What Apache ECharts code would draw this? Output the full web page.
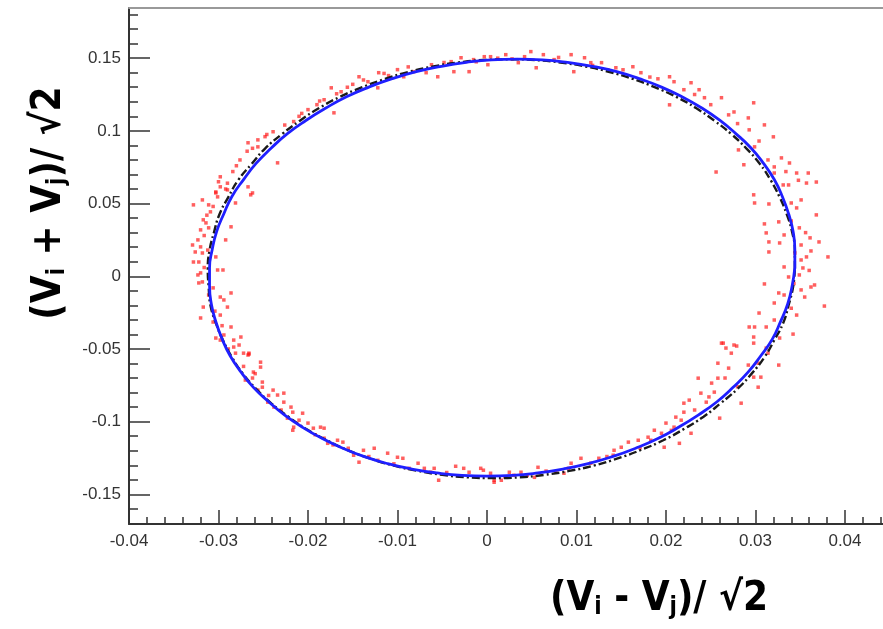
<!doctype html>
<html>
<head>
<meta charset="utf-8">
<title>ellipse fit</title>
<script src="https://cdn.jsdelivr.net/npm/echarts@6/dist/echarts.min.js"></script>
<style>
  html, body { margin: 0; padding: 0; background: #fff; }
  #chart { width: 883px; height: 629px; }
</style>
</head>
<body>
<div id="chart"></div>
<script>
// axis ranges and tick labels
var xRange = [-0.04, 0.04425];
var yRange = [-0.1704, 0.1845];
var xMajorTicks = [-0.04, -0.03, -0.02, -0.01, 0, 0.01, 0.02, 0.03, 0.04];
var yMajorTicks = [-0.15, -0.1, -0.05, 0, 0.05, 0.1, 0.15];

// blue fitted ellipse
var fitCurve = [
  [0.0344, 0.0059], [0.0344, 0.0184], [0.0342, 0.0309], [0.0337, 0.0430], [0.0330, 0.0549],
  [0.0321, 0.0665], [0.0309, 0.0776], [0.0295, 0.0882], [0.0278, 0.0981], [0.0260, 0.1073],
  [0.0240, 0.1157], [0.0218, 0.1234], [0.0195, 0.1301], [0.0170, 0.1359], [0.0145, 0.1407],
  [0.0118, 0.1444], [0.0090, 0.1471], [0.0062, 0.1488], [0.0034, 0.1493], [0.0005, 0.1488],
  [-0.0023, 0.1471], [-0.0051, 0.1444], [-0.0079, 0.1407], [-0.0106, 0.1359], [-0.0132, 0.1301],
  [-0.0157, 0.1234], [-0.0180, 0.1157], [-0.0202, 0.1073], [-0.0223, 0.0981], [-0.0241, 0.0882],
  [-0.0258, 0.0776], [-0.0272, 0.0665], [-0.0285, 0.0549], [-0.0294, 0.0430], [-0.0302, 0.0309],
  [-0.0307, 0.0184], [-0.0310, 0.0059], [-0.0310, -0.0066], [-0.0308, -0.0191], [-0.0303, -0.0312],
  [-0.0296, -0.0431], [-0.0287, -0.0547], [-0.0275, -0.0658], [-0.0261, -0.0764], [-0.0244, -0.0863],
  [-0.0226, -0.0955], [-0.0206, -0.1039], [-0.0184, -0.1116], [-0.0161, -0.1183], [-0.0137, -0.1241],
  [-0.0111, -0.1289], [-0.0084, -0.1326], [-0.0056, -0.1353], [-0.0028, -0.1370], [0.0000, -0.1375],
  [0.0029, -0.1370], [0.0057, -0.1353], [0.0085, -0.1326], [0.0113, -0.1289], [0.0140, -0.1241],
  [0.0166, -0.1183], [0.0191, -0.1116], [0.0214, -0.1039], [0.0236, -0.0955], [0.0257, -0.0863],
  [0.0275, -0.0764], [0.0292, -0.0658], [0.0306, -0.0547], [0.0319, -0.0431], [0.0328, -0.0312],
  [0.0336, -0.0191], [0.0341, -0.0066], [0.0344, 0.0059]
];

// black dashed reference ellipse
var refCurve = [
  [0.0344, 0.0052], [0.0344, 0.0178], [0.0341, 0.0303], [0.0335, 0.0425], [0.0327, 0.0544],
  [0.0317, 0.0661], [0.0305, 0.0772], [0.0290, 0.0878], [0.0273, 0.0978], [0.0254, 0.1070],
  [0.0234, 0.1155], [0.0212, 0.1232], [0.0188, 0.1299], [0.0163, 0.1357], [0.0137, 0.1405],
  [0.0110, 0.1443], [0.0082, 0.1470], [0.0054, 0.1487], [0.0025, 0.1492], [-0.0004, 0.1487],
  [-0.0032, 0.1470], [-0.0060, 0.1443], [-0.0088, 0.1405], [-0.0114, 0.1357], [-0.0140, 0.1299],
  [-0.0165, 0.1232], [-0.0188, 0.1155], [-0.0209, 0.1070], [-0.0229, 0.0978], [-0.0248, 0.0878],
  [-0.0263, 0.0772], [-0.0278, 0.0661], [-0.0289, 0.0544], [-0.0299, 0.0425], [-0.0305, 0.0303],
  [-0.0310, 0.0178], [-0.0312, 0.0052], [-0.0311, -0.0074], [-0.0309, -0.0199], [-0.0303, -0.0321],
  [-0.0295, -0.0440], [-0.0285, -0.0557], [-0.0273, -0.0668], [-0.0258, -0.0774], [-0.0241, -0.0874],
  [-0.0222, -0.0966], [-0.0202, -0.1051], [-0.0179, -0.1128], [-0.0156, -0.1195], [-0.0131, -0.1253],
  [-0.0105, -0.1301], [-0.0077, -0.1339], [-0.0050, -0.1366], [-0.0022, -0.1383], [0.0007, -0.1388],
  [0.0036, -0.1383], [0.0064, -0.1366], [0.0092, -0.1339], [0.0120, -0.1301], [0.0146, -0.1253],
  [0.0172, -0.1195], [0.0197, -0.1128], [0.0220, -0.1051], [0.0242, -0.0966], [0.0261, -0.0874],
  [0.0280, -0.0774], [0.0296, -0.0668], [0.0310, -0.0557], [0.0321, -0.0440], [0.0331, -0.0321],
  [0.0337, -0.0199], [0.0342, -0.0074], [0.0344, 0.0052]
];

// red measured points
var measuredPoints = [
  // upper left
  [-0.0298, 0.0684], [-0.0300, 0.0650], [-0.0303, 0.0580], [-0.0292, 0.0600], [-0.0267, 0.0918],
  [-0.0256, 0.0938], [-0.0262, 0.0573], [-0.0234, 0.0780], [-0.0256, 0.0890], [-0.0268, 0.0860],
  [-0.0239, 0.0994], [-0.0216, 0.1064], [-0.0200, 0.1146], [-0.0182, 0.1214], [-0.0174, 0.1296],
  [-0.0171, 0.1124], [-0.0163, 0.1269], [-0.0143, 0.1372], [-0.0133, 0.1338], [-0.0121, 0.1400],
  [-0.0122, 0.1296], [-0.0100, 0.1421], [-0.0093, 0.1372], [-0.0082, 0.1407], [-0.0068, 0.1400],
  [-0.0055, 0.1372], [-0.0040, 0.1476], [-0.0037, 0.1407], [-0.0020, 0.1407], [-0.0029, 0.1503],
  [-0.0015, 0.1490], [0.0001, 0.1455], [0.0004, 0.1510], [-0.0210, 0.1100], [-0.0190, 0.1180],
  [-0.0150, 0.1320], [-0.0110, 0.1380], [-0.0248, 0.0960], [-0.0280, 0.0760], [-0.0284, 0.0720],
  [-0.0276, 0.0800], [-0.0262, 0.0880], [-0.0246, 0.0975], [-0.0226, 0.1040], [-0.0207, 0.1120],
  [-0.0187, 0.1205], [-0.0168, 0.1255], [-0.0156, 0.1300], [-0.0138, 0.1350], [-0.0115, 0.1395],
  [-0.0088, 0.1440], [-0.0062, 0.1455], [-0.0048, 0.1470], [-0.0012, 0.1475], [-0.0290, 0.0640],
  // top and upper right
  [-0.0003, 0.1510], [0.0021, 0.1524], [0.0035, 0.1469], [0.0049, 0.1545], [0.0063, 0.1524],
  [0.0055, 0.1434], [0.0094, 0.1524], [0.0097, 0.1407], [0.0109, 0.1503], [0.0116, 0.1469],
  [0.0128, 0.1469], [0.0144, 0.1434], [0.0163, 0.1441], [0.0172, 0.1400], [0.0191, 0.1358],
  [0.0204, 0.1372], [0.0204, 0.1179], [0.0209, 0.1338], [0.0220, 0.1283], [0.0228, 0.1331],
  [0.0237, 0.1283], [0.0243, 0.1228], [0.0262, 0.1228], [0.0270, 0.1110], [0.0292, 0.1089],
  [0.0298, 0.1193], [0.0310, 0.1041], [0.0293, 0.1007], [0.0320, 0.0959], [0.0281, 0.0869],
  [0.0256, 0.0717], [0.0299, 0.0890], [0.0314, 0.0800], [0.0321, 0.0752], [0.0329, 0.0814],
  [0.0338, 0.0779], [0.0346, 0.0710], [0.0359, 0.0710], [0.0368, 0.0648], [0.0357, 0.0641],
  [0.0337, 0.0628], [0.0298, 0.0560], [0.0321, 0.0710], [0.0287, 0.0767], [0.0075, 0.1490],
  [0.0135, 0.1420], [0.0250, 0.1180], [0.0280, 0.1050], [0.0012, 0.1500], [0.0028, 0.1495],
  [0.0042, 0.1510], [0.0080, 0.1505], [0.0118, 0.1450], [0.0152, 0.1420], [0.0182, 0.1370],
  [0.0232, 0.1250], [0.0276, 0.1130], [0.0304, 0.0930], [0.0334, 0.0720], [0.0348, 0.0660],
  // right side
  [0.0299, 0.0504], [0.0315, 0.0497], [0.0331, 0.0628], [0.0340, 0.0504], [0.0351, 0.0525],
  [0.0346, 0.0470], [0.0326, 0.0374], [0.0310, 0.0360], [0.0368, 0.0422], [0.0349, 0.0333],
  [0.0312, 0.0298], [0.0315, 0.0236], [0.0327, 0.0229], [0.0332, 0.0284], [0.0361, 0.0264],
  [0.0371, 0.0236], [0.0351, 0.0215], [0.0362, 0.0174], [0.0315, 0.0167], [0.0381, 0.0133],
  [0.0351, 0.0112], [0.0357, 0.0133], [0.0332, 0.0064], [0.0353, 0.0057], [0.0349, 0.0009],
  [0.0337, -0.0005], [0.0310, -0.0053], [0.0366, -0.0060], [0.0362, -0.0074], [0.0351, -0.0094],
  [0.0326, -0.0115], [0.0332, -0.0129], [0.0355, -0.0143], [0.0321, -0.0184], [0.0377, -0.0205],
  [0.0346, -0.0267], [0.0304, -0.0253], [0.0321, -0.0301], [0.0293, -0.0349], [0.0299, -0.0349],
  [0.0312, -0.0349], [0.0342, -0.0398], [0.0327, -0.0425], [0.0264, -0.0460], [0.0279, -0.0480],
  [0.0267, -0.0494], [0.0298, -0.0418], [0.0312, -0.0494], [0.0273, -0.0529], [0.0340, 0.0380],
  [0.0356, 0.0300], [0.0344, 0.0160], [0.0360, 0.0040], [0.0343, -0.0050], [0.0340, -0.0220],
  // lower right
  [0.0262, -0.0460], [0.0276, -0.0473], [0.0298, -0.0460], [0.0258, -0.0598], [0.0270, -0.0632],
  [0.0292, -0.0611], [0.0303, -0.0598], [0.0326, -0.0611], [0.0314, -0.0529], [0.0236, -0.0701],
  [0.0251, -0.0735], [0.0258, -0.0701], [0.0298, -0.0694], [0.0306, -0.0694], [0.0303, -0.0763],
  [0.0254, -0.0797], [0.0239, -0.0804], [0.0226, -0.0852], [0.0245, -0.0866], [0.0220, -0.0873],
  [0.0284, -0.0873], [0.0220, -0.0935], [0.0211, -0.0969], [0.0217, -0.0990], [0.0260, -0.0976],
  [0.0200, -0.1010], [0.0209, -0.1038], [0.0187, -0.1059], [0.0195, -0.1080], [0.0228, -0.1080],
  [0.0180, -0.1107], [0.0169, -0.1128], [0.0183, -0.1128], [0.0215, -0.1149], [0.0158, -0.1141],
  [0.0150, -0.1176], [0.0198, -0.1176], [0.0142, -0.1197], [0.0141, -0.1231], [0.0125, -0.1252],
  [0.0116, -0.1286], [0.0105, -0.1252], [0.0094, -0.1286], [0.0091, -0.1321], [0.0086, -0.1355],
  [0.0077, -0.1348], [0.0057, -0.1314], [0.0053, -0.1383], [0.0038, -0.1348], [0.0030, -0.1369],
  [0.0025, -0.1348], [0.0016, -0.1403], [0.0008, -0.1417], [0.0004, -0.1355], [-0.0004, -0.1334],
  [0.0266, -0.0700], [0.0280, -0.0760], [0.0248, -0.0830], [0.0232, -0.0920], [0.0206, -0.1060],
  [0.0171, -0.1180], [0.0134, -0.1240], [0.0066, -0.1340], [0.0045, -0.1370], [0.0020, -0.1380],
  // lower left
  [-0.0298, -0.0439], [-0.0283, -0.0487], [-0.0277, -0.0473], [-0.0281, -0.0529], [-0.0267, -0.0542],
  [-0.0266, -0.0529], [-0.0253, -0.0591], [-0.0253, -0.0625], [-0.0261, -0.0659], [-0.0259, -0.0670],
  [-0.0251, -0.0728], [-0.0270, -0.0714], [-0.0251, -0.0763], [-0.0256, -0.0783], [-0.0239, -0.0783],
  [-0.0245, -0.0866], [-0.0234, -0.0817], [-0.0227, -0.0804], [-0.0227, -0.0866], [-0.0238, -0.0900],
  [-0.0219, -0.0900], [-0.0217, -0.0935], [-0.0206, -0.0942], [-0.0223, -0.0976], [-0.0216, -0.1038],
  [-0.0217, -0.1059], [-0.0200, -0.1010], [-0.0194, -0.1045], [-0.0186, -0.1038], [-0.0182, -0.1045],
  [-0.0182, -0.1114], [-0.0178, -0.1149], [-0.0167, -0.1128], [-0.0161, -0.1141], [-0.0155, -0.1183],
  [-0.0149, -0.1231], [-0.0143, -0.1279], [-0.0138, -0.1197], [-0.0126, -0.1183], [-0.0122, -0.1266],
  [-0.0111, -0.1217], [-0.0100, -0.1245], [-0.0094, -0.1252], [-0.0087, -0.1321], [-0.0077, -0.1286],
  [-0.0070, -0.1321], [-0.0063, -0.1348], [-0.0059, -0.1321], [-0.0054, -0.1403], [-0.0035, -0.1307],
  [-0.0026, -0.1321], [-0.0020, -0.1348], [-0.0007, -0.1321], [0.0008, -0.1403], [-0.0289, -0.0500],
  [-0.0272, -0.0620], [-0.0262, -0.0700], [-0.0244, -0.0820], [-0.0230, -0.0920], [-0.0210, -0.0990],
  [-0.0192, -0.1090], [-0.0172, -0.1160], [-0.0132, -0.1240], [-0.0104, -0.1290], [-0.0045, -0.1350],
  // left side
  [-0.0298, 0.0615], [-0.0290, 0.0594], [-0.0303, 0.0573], [-0.0301, 0.0546], [-0.0281, 0.0504],
  [-0.0267, 0.0615], [-0.0264, 0.0560], [-0.0318, 0.0525], [-0.0328, 0.0491], [-0.0311, 0.0491],
  [-0.0306, 0.0480], [-0.0309, 0.0443], [-0.0317, 0.0388], [-0.0314, 0.0367], [-0.0320, 0.0319],
  [-0.0311, 0.0333], [-0.0286, 0.0340], [-0.0292, 0.0250], [-0.0323, 0.0250], [-0.0329, 0.0215],
  [-0.0320, 0.0202], [-0.0326, 0.0167], [-0.0318, 0.0160], [-0.0303, 0.0133], [-0.0328, 0.0098],
  [-0.0322, 0.0098], [-0.0301, 0.0043], [-0.0295, 0.0043], [-0.0323, 0.0009], [-0.0320, 0.0023],
  [-0.0318, -0.0039], [-0.0322, -0.0046], [-0.0311, -0.0129], [-0.0298, -0.0143], [-0.0294, -0.0163],
  [-0.0286, -0.0115], [-0.0317, -0.0212], [-0.0290, -0.0212], [-0.0320, -0.0287], [-0.0306, -0.0315],
  [-0.0298, -0.0267], [-0.0286, -0.0349], [-0.0294, -0.0404], [-0.0283, -0.0439], [-0.0275, -0.0418],
  [-0.0272, -0.0529], [-0.0266, -0.0536], [-0.0303, -0.0425], [-0.0313, 0.0420], [-0.0316, 0.0280],
  [-0.0312, 0.0180], [-0.0316, 0.0060], [-0.0306, -0.0080], [-0.0304, -0.0240], [-0.0296, -0.0340]
];

function stepTicks(from, to, step) {
  var out = [];
  var n = Math.round((to - from) / step);
  for (var i = 0; i <= n; i++) out.push(+(from + i * step).toFixed(4));
  return out;
}
var xMinorTicks = stepTicks(-0.04, 0.044, 0.002);
var yMinorTicks = stepTicks(-0.17, 0.18, 0.01);

var labelFont = { fontFamily: '"Liberation Sans", Arial, sans-serif', fontSize: 17, color: '#333' };
var axisColor = '#333';
var titleFamily = '"Liberation Sans Narrow", "DejaVu Sans Condensed", sans-serif';
var titleRich = {
  m: { fontFamily: titleFamily, fontWeight: 'bold', fontSize: 40, lineHeight: 40, color: '#000' },
  s: { fontFamily: titleFamily, fontWeight: 'bold', fontSize: 24, lineHeight: 24, color: '#000',
       verticalAlign: 'bottom', padding: [30, 0, 0, 0] }
};

var chart = echarts.init(document.getElementById('chart'));
var option = {
  animation: false,
  backgroundColor: '#fff',
  grid: { left: 129, right: 0, top: 8, bottom: 105, containLabel: false },
  xAxis: [
    {
      type: 'value', position: 'bottom', min: xRange[0], max: xRange[1],
      axisLine: { show: true, onZero: false, lineStyle: { color: axisColor, width: 2 } },
      axisTick: { show: true, inside: true, length: 14, customValues: xMajorTicks, lineStyle: { color: axisColor, width: 1.5 } },
      axisLabel: { show: true, margin: 9, customValues: xMajorTicks, formatter: function (v) { return String(v); }, fontFamily: labelFont.fontFamily, fontSize: labelFont.fontSize, color: labelFont.color },
      splitLine: { show: false }
    },
    {
      type: 'value', position: 'bottom', min: xRange[0], max: xRange[1],
      axisLine: { show: false, onZero: false },
      axisTick: { show: true, inside: true, length: 7, customValues: xMinorTicks, lineStyle: { color: axisColor, width: 1.5 } },
      axisLabel: { show: false },
      splitLine: { show: false }
    },
    {
      type: 'value', position: 'top', min: xRange[0], max: xRange[1],
      axisLine: { show: true, onZero: false, lineStyle: { color: '#999', width: 2 } },
      axisTick: { show: false }, axisLabel: { show: false }, splitLine: { show: false }
    }
  ],
  yAxis: [
    {
      type: 'value', position: 'left', min: yRange[0], max: yRange[1],
      axisLine: { show: true, onZero: false, lineStyle: { color: axisColor, width: 2 } },
      axisTick: { show: true, inside: true, length: 21, customValues: yMajorTicks, lineStyle: { color: axisColor, width: 1.5 } },
      axisLabel: { show: true, margin: 8, customValues: yMajorTicks, formatter: function (v) { return String(v); }, fontFamily: labelFont.fontFamily, fontSize: labelFont.fontSize, color: labelFont.color },
      splitLine: { show: false }
    },
    {
      type: 'value', position: 'left', min: yRange[0], max: yRange[1],
      axisLine: { show: false, onZero: false },
      axisTick: { show: true, inside: true, length: 9, customValues: yMinorTicks, lineStyle: { color: axisColor, width: 1.5 } },
      axisLabel: { show: false },
      splitLine: { show: false }
    }
  ],
  series: [
    {
      name: 'measured', type: 'scatter', data: measuredPoints, z: 2,
      symbol: 'rect', symbolSize: 3.5,
      itemStyle: { color: 'rgba(255, 20, 20, 0.85)' }
    },
    {
      name: 'reference', type: 'line', data: refCurve, z: 3, smooth: true, symbol: 'none',
      lineStyle: { color: '#1a1a1a', width: 2.4, type: [8, 3, 2, 3] }
    },
    {
      name: 'fit', type: 'line', data: fitCurve, z: 4, smooth: true, symbol: 'none',
      lineStyle: { color: '#1f1fff', width: 2.8 }
    }
  ],
  graphic: [
    {
      type: 'text', x: 659, y: 600,
      style: { text: '{m|(V}{s|i}{m| - V}{s|j}{m|)/ √2}', rich: titleRich, align: 'center', verticalAlign: 'middle', textAlign: 'center', textVerticalAlign: 'middle' }
    },
    {
      type: 'text', x: 50, y: 203, rotation: Math.PI / 2,
      style: { text: '{m|(V}{s|i}{m| + V}{s|j}{m|)/ √2}', rich: titleRich, align: 'center', verticalAlign: 'middle', textAlign: 'center', textVerticalAlign: 'middle' }
    }
  ]
};
chart.setOption(option);
</script>
</body>
</html>
